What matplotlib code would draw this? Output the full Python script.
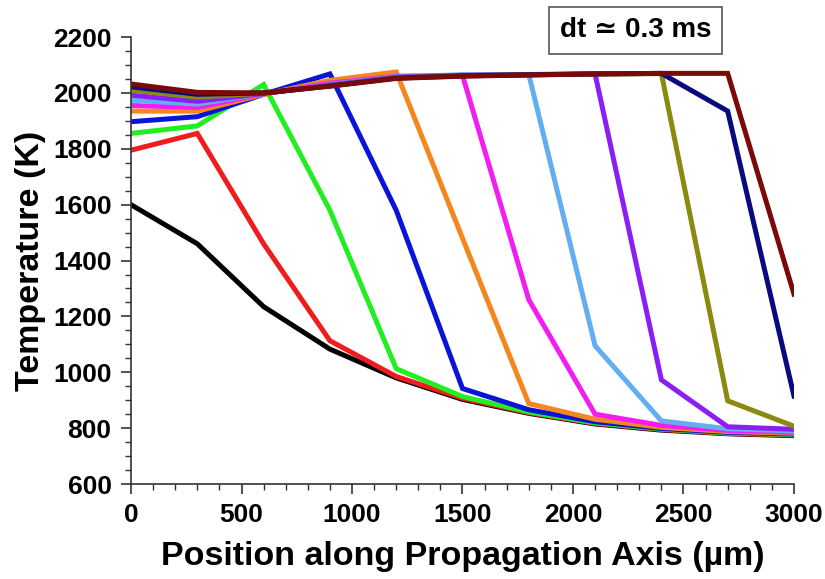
import matplotlib
matplotlib.use("Agg")
import matplotlib.pyplot as plt
from matplotlib.ticker import MultipleLocator

plt.rcParams['font.family'] = ['Liberation Sans', 'DejaVu Sans']

positions = [0, 300, 600, 900, 1200, 1500, 1800, 2100, 2400, 2700, 3000]

t_black   = [1600, 1460, 1235, 1083, 980, 903, 853, 815, 793, 780, 773]
t_red     = [1795, 1855, 1460, 1113, 985, 907, 855, 817, 795, 781, 775]
t_green   = [1855, 1882, 2030, 1580, 1013, 913, 858, 819, 797, 783, 777]
t_blue    = [1897, 1915, 1995, 2068, 1580, 942, 866, 823, 799, 785, 779]
t_orange  = [1935, 1935, 1995, 2045, 2075, 1480, 888, 832, 803, 788, 782]
t_magenta = [1955, 1948, 1997, 2035, 2060, 2063, 1260, 850, 810, 792, 785]
t_ltblue  = [1974, 1960, 1998, 2030, 2058, 2065, 2066, 1095, 826, 798, 790]
t_purple  = [1992, 1970, 1998, 2028, 2056, 2063, 2066, 2068, 973, 805, 796]
t_olive   = [2010, 1985, 1999, 2026, 2054, 2062, 2065, 2068, 2069, 898, 807]
t_navy    = [2022, 1995, 2000, 2025, 2053, 2061, 2065, 2068, 2070, 1935, 915]
t_darkred = [2032, 2002, 2000, 2024, 2052, 2060, 2064, 2068, 2070, 2070, 1280]

series = [
    (t_black, "#000000"),
    (t_red, "#ee1c1c"),
    (t_green, "#22ee22"),
    (t_blue, "#0a14d8"),
    (t_orange, "#f5871f"),
    (t_magenta, "#f21ef0"),
    (t_ltblue, "#62aef0"),
    (t_purple, "#8a1ef5"),
    (t_olive, "#8a8a10"),
    (t_navy, "#0a0a80"),
    (t_darkred, "#7a0a0a"),
]

fig = plt.figure(figsize=(8.25, 5.79), dpi=100)
ax = fig.add_axes([0.1588, 0.164, 0.8036, 0.772])

for vals, col in series:
    ax.plot(positions, vals, color=col, lw=3.6, solid_joinstyle='miter')

ax.set_xlim(0, 3000)
ax.set_ylim(600, 2200)
ax.xaxis.set_major_locator(MultipleLocator(500))
ax.xaxis.set_minor_locator(MultipleLocator(100))
ax.yaxis.set_major_locator(MultipleLocator(200))
ax.yaxis.set_minor_locator(MultipleLocator(50))

for s in ['top', 'right']:
    ax.spines[s].set_visible(False)
for s in ['left', 'bottom']:
    ax.spines[s].set_color('#333333')
    ax.spines[s].set_linewidth(1.2)

ax.tick_params(which='major', direction='out', length=7, width=1.2, color='#333333',
               labelsize=19, pad=7)
ax.tick_params(which='minor', direction='out', length=4.5, width=1.0, color='#333333')
for lbl in ax.get_xticklabels() + ax.get_yticklabels():
    lbl.set_fontweight('bold')

ax.set_xlabel("Position along Propagation Axis (µm)", fontsize=24.5, fontweight='bold', labelpad=10)
ax.set_ylabel("Temperature (K)", fontsize=24.5, fontweight='bold', labelpad=5)

fig.text(0.770, 0.948, "dt ≃ 0.3 ms", fontsize=20, fontweight='bold', ha='center', va='center',
         bbox=dict(boxstyle='square,pad=0.38', fc='white', ec='#555555', lw=1.2))

fig.savefig("out.png", dpi=100)
